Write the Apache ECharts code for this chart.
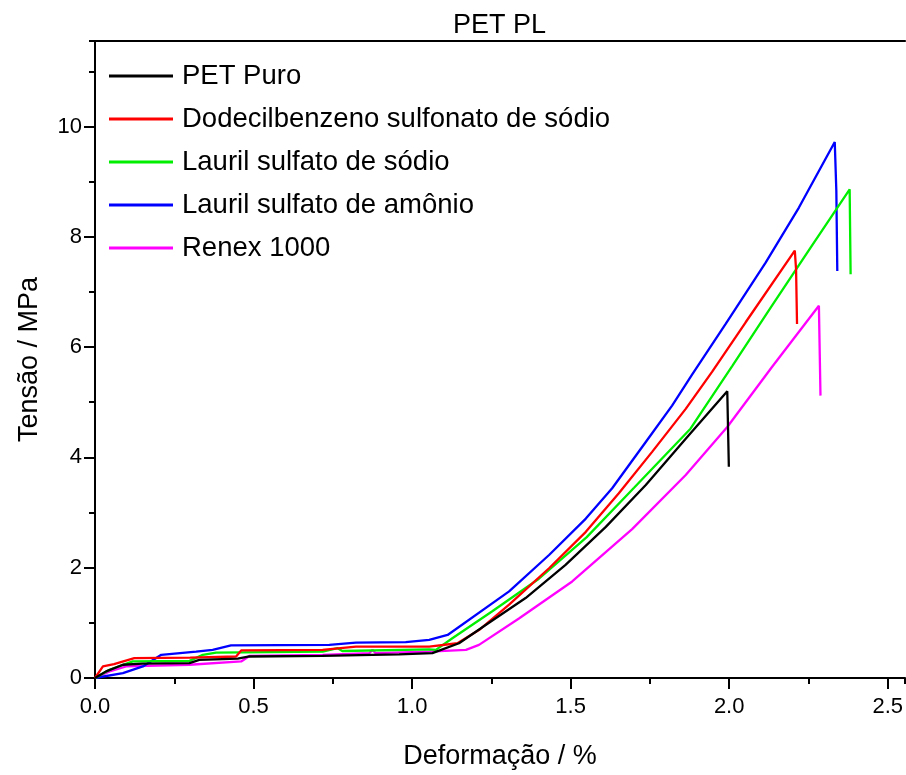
<!DOCTYPE html>
<html>
<head>
<meta charset="utf-8">
<script src="https://cdn.jsdelivr.net/npm/echarts@6/dist/echarts.min.js"></script>
<style>html,body{margin:0;padding:0;background:#fff}#c{width:906px;height:775px}</style>
</head>
<body>
<div id="c"></div>
<script>
const seriesNames = ["PET Puro", "Dodecilbenzeno sulfonato de sódio", "Lauril sulfato de sódio", "Lauril sulfato de amônio", "Renex 1000"];
const seriesColors = ["#000000", "#ff0000", "#00ee00", "#0000ff", "#ff00ff"];

const petPuro = [[0,0],[0.035,0.12],[0.088,0.24],[0.15,0.26],[0.298,0.27],[0.329,0.33],[0.45,0.35],[0.487,0.39],[0.718,0.40],[0.875,0.42],[0.959,0.43],[1.064,0.45],[1.148,0.63],[1.232,0.96],[1.358,1.45],[1.484,2.05],[1.611,2.74],[1.737,3.50],[1.863,4.34],[1.994,5.20],[1.999,3.83]];
const dodecil = [[0,0],[0.025,0.21],[0.06,0.25],[0.124,0.36],[0.30,0.37],[0.445,0.39],[0.461,0.50],[0.718,0.51],[0.823,0.57],[1.054,0.57],[1.143,0.63],[1.211,0.87],[1.306,1.33],[1.432,1.99],[1.548,2.65],[1.652,3.35],[1.757,4.10],[1.863,4.88],[1.946,5.55],[2.052,6.45],[2.207,7.75],[2.211,7.41],[2.214,6.42]];
const laurilSodio = [[0,0],[0.046,0.15],[0.119,0.30],[0.298,0.31],[0.340,0.42],[0.382,0.46],[0.718,0.48],[0.765,0.54],[0.78,0.49],[1.054,0.52],[1.075,0.51],[1.127,0.72],[1.253,1.21],[1.40,1.80],[1.55,2.55],[1.70,3.45],[1.878,4.52],[2.010,5.66],[2.135,6.75],[2.261,7.84],[2.380,8.86],[2.383,7.32]];
const laurilAmonio = [[0,0],[0.088,0.09],[0.151,0.21],[0.209,0.42],[0.319,0.48],[0.371,0.51],[0.429,0.59],[0.739,0.60],[0.823,0.64],[0.980,0.65],[1.054,0.69],[1.112,0.78],[1.306,1.57],[1.432,2.23],[1.548,2.89],[1.631,3.44],[1.737,4.28],[1.820,4.94],[1.883,5.50],[1.989,6.42],[2.115,7.53],[2.220,8.53],[2.333,9.72],[2.338,8.83],[2.341,7.38]];
const renex = [[0,0],[0.046,0.12],[0.098,0.21],[0.298,0.24],[0.461,0.30],[0.487,0.40],[0.718,0.42],[0.865,0.45],[0.875,0.51],[0.885,0.45],[1.054,0.48],[1.170,0.51],[1.211,0.60],[1.337,1.08],[1.505,1.75],[1.694,2.70],[1.863,3.68],[1.994,4.55],[2.135,5.64],[2.283,6.75],[2.288,5.12]];

const allData = [petPuro, dodecil, laurilSodio, laurilAmonio, renex];

const FONT = "'Liberation Sans', Arial, sans-serif";
const chart = echarts.init(document.getElementById('c'), null, {renderer: 'canvas'});
const axisLineStyle = {color: '#000', width: 2};
const XMAX = 2.555, YMAX = 11.55;

chart.setOption({
  animation: false,
  backgroundColor: '#fff',
  title: {
    text: 'PET PL', left: 448, top: 7,
    textStyle: {fontFamily: FONT, fontSize: 27, fontWeight: 'normal', color: '#000'}
  },
  legend: {
    data: seriesNames, orient: 'vertical', left: 104, top: 57,
    icon: 'rect', itemWidth: 64, itemHeight: 3, itemGap: 15,
    textStyle: {fontFamily: FONT, fontSize: 27.5, color: '#000', lineHeight: 27.5, padding: [0,0,0,4]}
  },
  grid: {left: 95, top: 41, right: 0, bottom: 95, containLabel: false},
  xAxis: [
    {
      type: 'value', min: 0, max: XMAX, interval: 0.5, position: 'bottom',
      name: 'Deformação / %', nameLocation: 'middle', nameGap: 65,
      nameTextStyle: {fontFamily: FONT, fontSize: 27, color: '#000'},
      axisLine: {show: true, onZero: false, lineStyle: axisLineStyle},
      axisTick: {show: true, inside: false, length: 11, lineStyle: axisLineStyle},
      axisLabel: {fontFamily: FONT, fontSize: 22, color: '#000', margin: 18, showMaxLabel: false,
        formatter: v => v.toFixed(1)},
      splitLine: {show: false}
    },
    {
      type: 'value', min: 0, max: XMAX, interval: 0.25, position: 'bottom',
      axisLine: {show: false, onZero: false},
      axisTick: {show: true, inside: false, length: 6, lineStyle: axisLineStyle},
      axisLabel: {show: false}, splitLine: {show: false}
    },
    {
      type: 'value', min: 0, max: XMAX, position: 'top',
      axisLine: {show: true, onZero: false, lineStyle: axisLineStyle},
      axisTick: {show: false}, axisLabel: {show: false}, splitLine: {show: false}
    }
  ],
  yAxis: [
    {
      type: 'value', min: 0, max: YMAX, interval: 2, position: 'left',
      name: 'Tensão / MPa', nameLocation: 'middle', nameGap: 52, nameRotate: 90,
      nameTextStyle: {fontFamily: FONT, fontSize: 27, color: '#000'},
      axisLine: {show: true, onZero: false, lineStyle: axisLineStyle},
      axisTick: {show: true, inside: false, length: 11, lineStyle: axisLineStyle},
      axisLabel: {fontFamily: FONT, fontSize: 22, color: '#000', margin: 13, showMaxLabel: false},
      splitLine: {show: false}
    },
    {
      type: 'value', min: 0, max: YMAX, interval: 1, position: 'left',
      axisLine: {show: false, onZero: false},
      axisTick: {show: true, inside: false, length: 6, lineStyle: axisLineStyle},
      axisLabel: {show: false}, splitLine: {show: false}
    }
  ],
  series: seriesNames.map((n, i) => ({
    name: n, type: 'line', xAxisIndex: 0, yAxisIndex: 0,
    data: allData[i], showSymbol: false, symbol: 'none', smooth: false,
    lineStyle: {color: seriesColors[i], width: 2.3},
    itemStyle: {color: seriesColors[i]},
    z: 10 - i
  }))
});
</script>
</body>
</html>
